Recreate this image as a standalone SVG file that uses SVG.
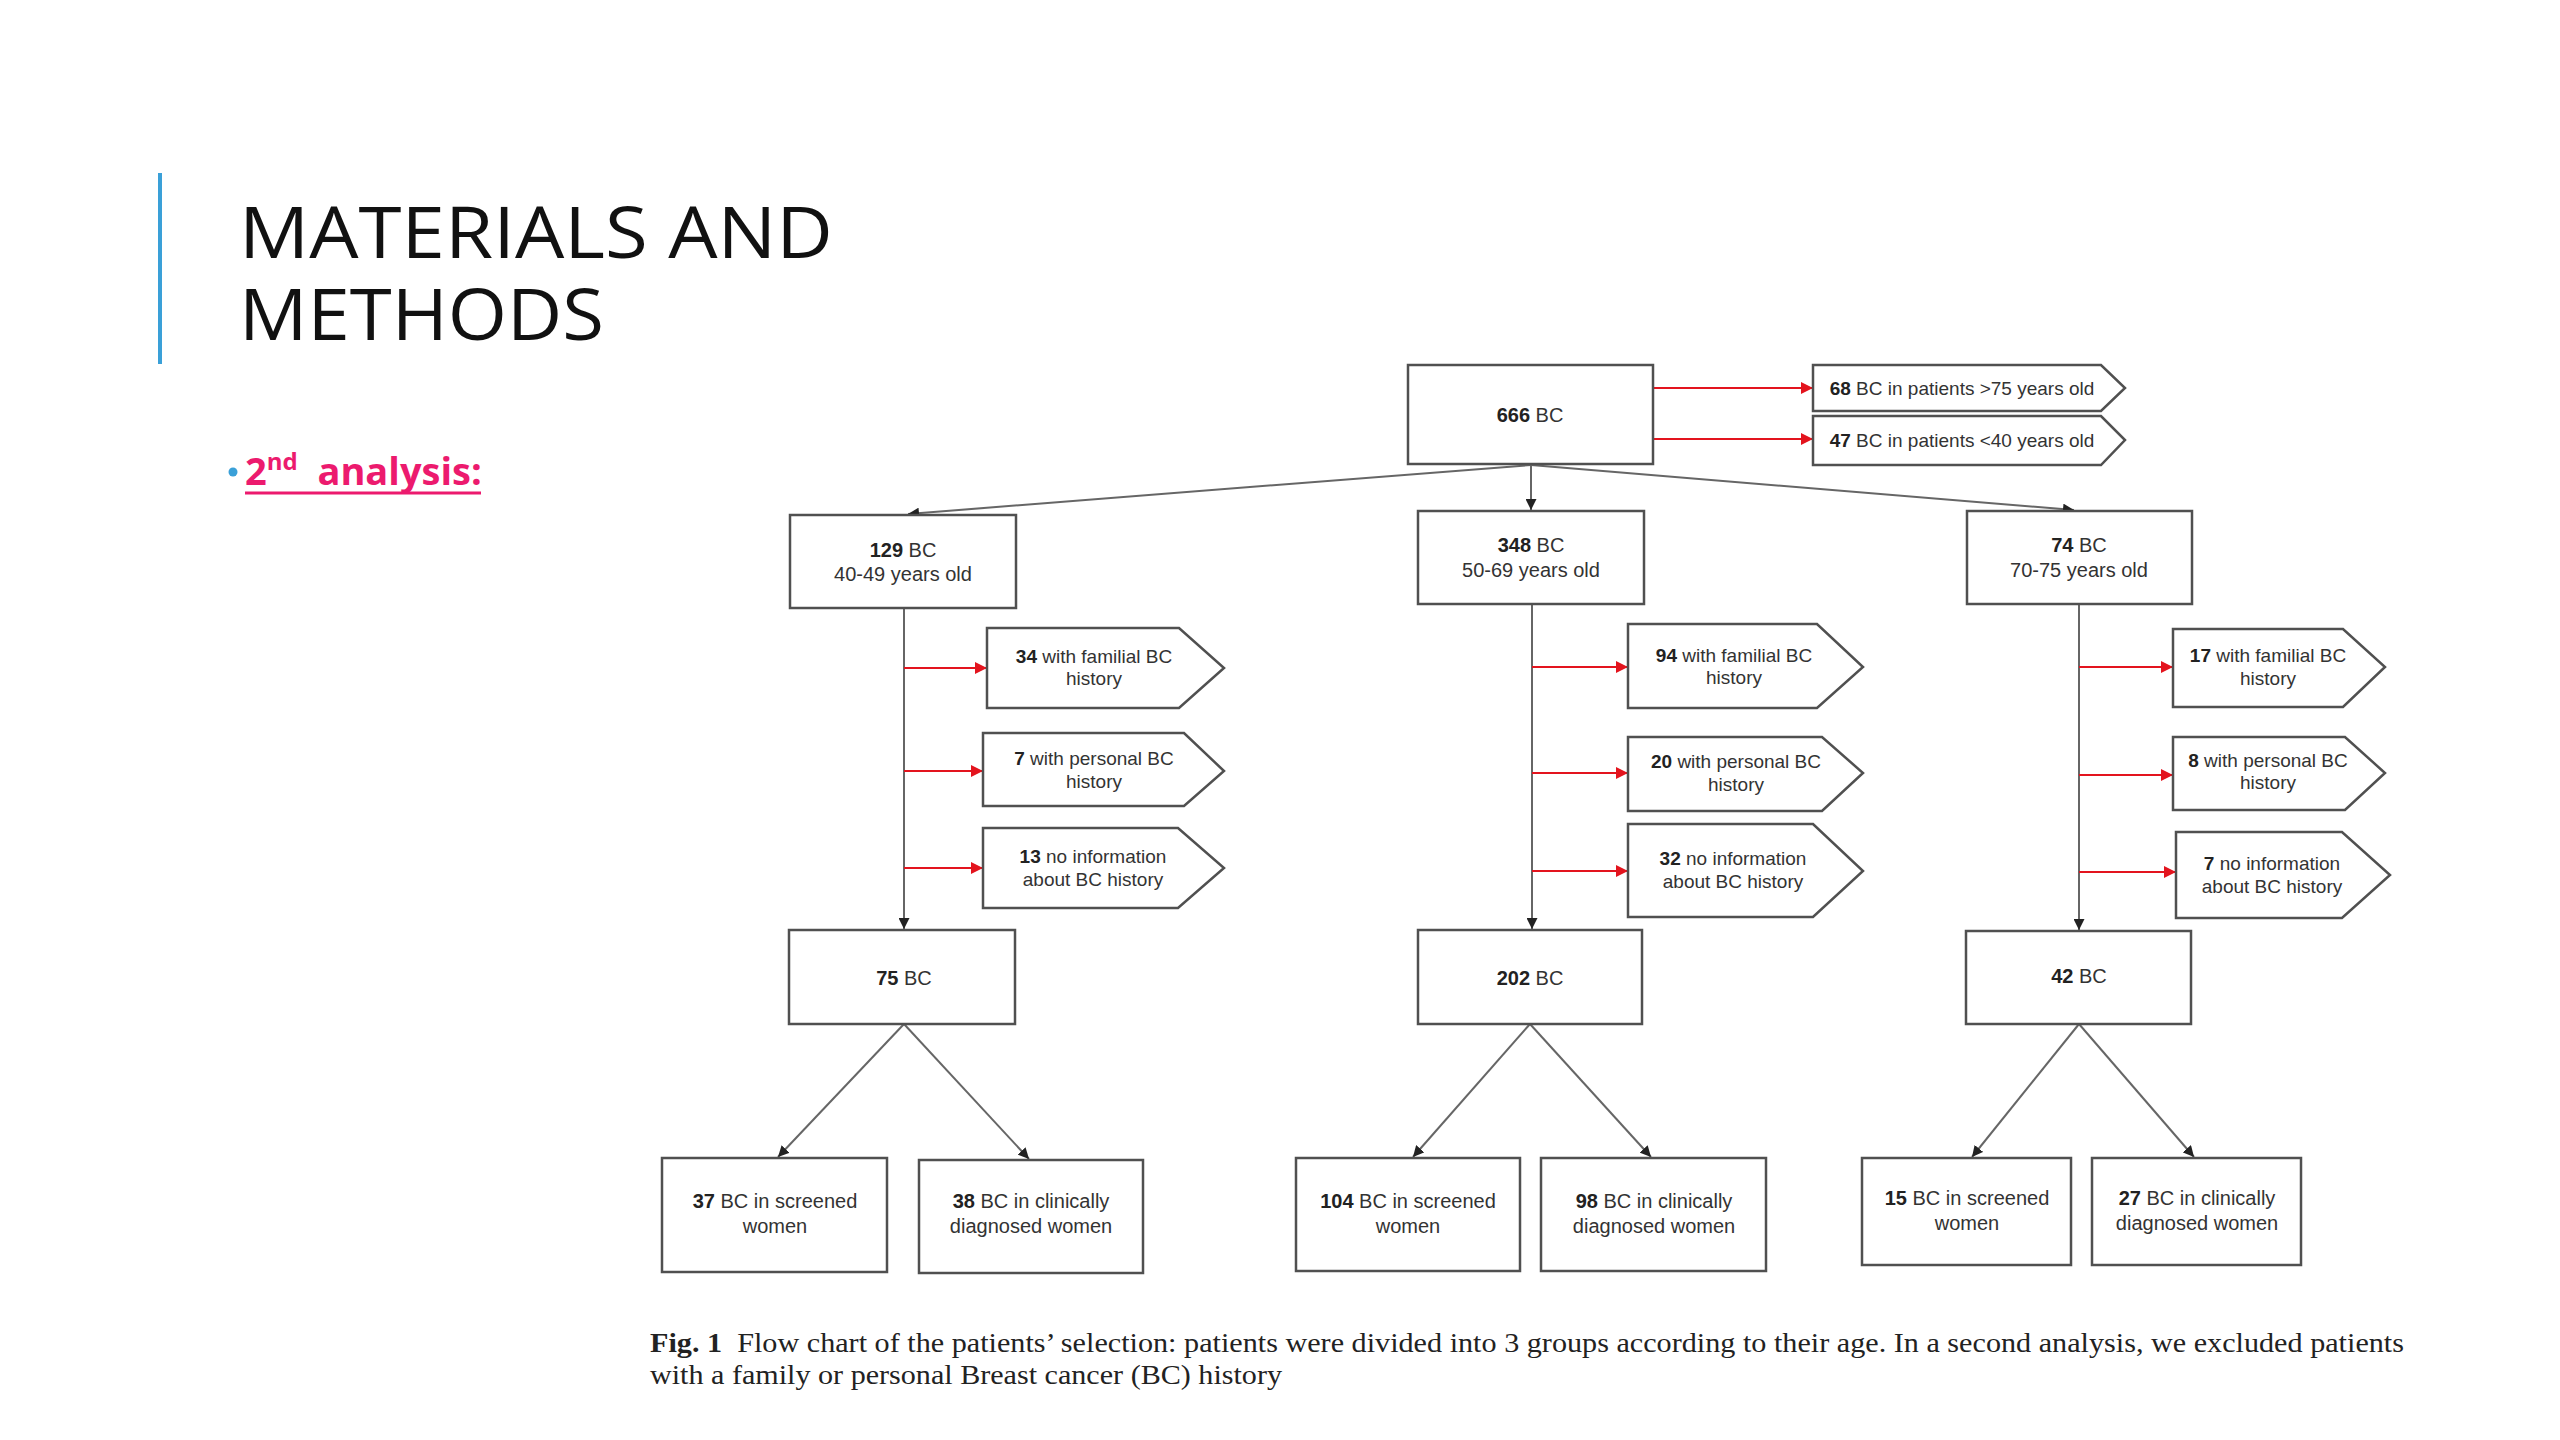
<svg xmlns="http://www.w3.org/2000/svg" width="2560" height="1440" viewBox="0 0 2560 1440">
<defs>
<marker id="ab" viewBox="0 0 10 10" refX="10" refY="5" markerWidth="11" markerHeight="11" markerUnits="userSpaceOnUse" orient="auto"><path d="M0,0 L10,5 L0,10 z" fill="#222"/></marker>
<marker id="ar" viewBox="0 0 10 10" refX="10" refY="5" markerWidth="12" markerHeight="12" markerUnits="userSpaceOnUse" orient="auto"><path d="M0,0 L10,5 L0,10 z" fill="#E3141E"/></marker>
</defs>
<style>
.box{fill:#fff;stroke:#505050;stroke-width:2.5}
.t{font-family:"Liberation Sans",Arial,sans-serif;font-size:20px;fill:#333;text-anchor:middle}
.ts{font-family:"Liberation Sans",Arial,sans-serif;font-size:19px;fill:#333;text-anchor:middle}
.b{font-weight:bold;fill:#222}
.ln{stroke:#666;stroke-width:2;fill:none;marker-end:url(#ab)}
.rl{stroke:#E3141E;stroke-width:2;fill:none;marker-end:url(#ar)}
.title{font-family:"Open Sans","Liberation Sans",sans-serif;font-size:72px;fill:#111}
.cap{font-family:"Liberation Serif","Times New Roman",serif;font-size:28px;fill:#222}
</style>
<rect width="2560" height="1440" fill="#fff"/>
<g id="title">
<line x1="160" y1="173" x2="160" y2="364" stroke="#3AA0D8" stroke-width="4"/>
<text class="title" x="239" y="258" textLength="594" lengthAdjust="spacingAndGlyphs">MATERIALS AND</text>
<text class="title" x="239" y="340" textLength="365" lengthAdjust="spacingAndGlyphs">METHODS</text>
</g>
<g id="bullet">
<circle cx="233" cy="472" r="4.5" fill="#3AA0D8"/>
<text x="245" y="485" font-family="'Open Sans','Liberation Sans',sans-serif" font-weight="bold" font-size="38" fill="#EC1A6E">2<tspan font-size="24" dy="-15">nd</tspan><tspan dy="15">&#160; analysis:</tspan></text>
<line x1="245" y1="493" x2="481" y2="493" stroke="#EC1A6E" stroke-width="3"/>
</g>
<g id="connectors">
<line class="rl" x1="1653" y1="388" x2="1813" y2="388"/>
<line class="rl" x1="1653" y1="439" x2="1813" y2="439"/>
<line class="ln" x1="1531" y1="465" x2="908" y2="514"/>
<line class="ln" x1="1531" y1="465" x2="1531" y2="510"/>
<line class="ln" x1="1531" y1="465" x2="2074" y2="510"/>
<line class="ln" x1="904" y1="608" x2="904" y2="929"/>
<line class="ln" x1="1532" y1="604" x2="1532" y2="929"/>
<line class="ln" x1="2079" y1="604" x2="2079" y2="930"/>
<line class="rl" x1="904" y1="668" x2="987" y2="668"/>
<line class="rl" x1="904" y1="771" x2="983" y2="771"/>
<line class="rl" x1="904" y1="868" x2="983" y2="868"/>
<line class="rl" x1="1532" y1="667" x2="1628" y2="667"/>
<line class="rl" x1="1532" y1="773" x2="1628" y2="773"/>
<line class="rl" x1="1532" y1="871" x2="1628" y2="871"/>
<line class="rl" x1="2079" y1="667" x2="2173" y2="667"/>
<line class="rl" x1="2079" y1="775" x2="2173" y2="775"/>
<line class="rl" x1="2079" y1="872" x2="2176" y2="872"/>
<line class="ln" x1="904" y1="1024" x2="778" y2="1157"/>
<line class="ln" x1="904" y1="1024" x2="1029" y2="1159"/>
<line class="ln" x1="1530" y1="1024" x2="1413" y2="1157"/>
<line class="ln" x1="1530" y1="1024" x2="1651" y2="1157"/>
<line class="ln" x1="2079" y1="1024" x2="1972" y2="1157"/>
<line class="ln" x1="2079" y1="1024" x2="2194" y2="1157"/>
</g>
<g id="n666"><rect class="box" x="1408" y="365" width="245" height="99"/><text class="t" x="1530" y="422"><tspan class="b">666</tspan> BC</text></g>
<g id="e68"><path class="box" d="M1813,365 H2101 L2125,388 L2101,411 H1813 Z"/><text class="ts" x="1962" y="395"><tspan class="b">68</tspan> BC in patients &gt;75 years old</text></g>
<g id="e47"><path class="box" d="M1813,416 H2101 L2125,440 L2101,465 H1813 Z"/><text class="ts" x="1962" y="447"><tspan class="b">47</tspan> BC in patients &lt;40 years old</text></g>
<g id="n129"><rect class="box" x="790" y="515" width="226" height="93"/><text class="t" x="903" y="557"><tspan class="b">129</tspan> BC</text><text class="t" x="903" y="581">40-49 years old</text></g>
<g id="n348"><rect class="box" x="1418" y="511" width="226" height="93"/><text class="t" x="1531" y="552"><tspan class="b">348</tspan> BC</text><text class="t" x="1531" y="577">50-69 years old</text></g>
<g id="n74"><rect class="box" x="1967" y="511" width="225" height="93"/><text class="t" x="2079" y="552"><tspan class="b">74</tspan> BC</text><text class="t" x="2079" y="577">70-75 years old</text></g>
<g id="p34"><path class="box" d="M987,628 H1179 L1224,668 L1179,708 H987 Z"/><text class="ts" x="1094" y="663"><tspan class="b">34</tspan> with familial BC</text><text class="ts" x="1094" y="685">history</text></g>
<g id="p7"><path class="box" d="M983,733 H1184 L1224,771 L1184,806 H983 Z"/><text class="ts" x="1094" y="765"><tspan class="b">7</tspan> with personal BC</text><text class="ts" x="1094" y="788">history</text></g>
<g id="p13"><path class="box" d="M983,828 H1178 L1224,868 L1178,908 H983 Z"/><text class="ts" x="1093" y="863"><tspan class="b">13</tspan> no information</text><text class="ts" x="1093" y="886">about BC history</text></g>
<g id="p94"><path class="box" d="M1628,624 H1817 L1863,667 L1817,708 H1628 Z"/><text class="ts" x="1734" y="662"><tspan class="b">94</tspan> with familial BC</text><text class="ts" x="1734" y="684">history</text></g>
<g id="p20"><path class="box" d="M1628,737 H1822 L1863,773 L1822,811 H1628 Z"/><text class="ts" x="1736" y="768"><tspan class="b">20</tspan> with personal BC</text><text class="ts" x="1736" y="791">history</text></g>
<g id="p32"><path class="box" d="M1628,824 H1813 L1863,871 L1813,917 H1628 Z"/><text class="ts" x="1733" y="865"><tspan class="b">32</tspan> no information</text><text class="ts" x="1733" y="888">about BC history</text></g>
<g id="p17"><path class="box" d="M2173,629 H2343 L2385,667 L2343,707 H2173 Z"/><text class="ts" x="2268" y="662"><tspan class="b">17</tspan> with familial BC</text><text class="ts" x="2268" y="685">history</text></g>
<g id="p8"><path class="box" d="M2173,737 H2345 L2385,773 L2345,810 H2173 Z"/><text class="ts" x="2268" y="767"><tspan class="b">8</tspan> with personal BC</text><text class="ts" x="2268" y="789">history</text></g>
<g id="p7n"><path class="box" d="M2176,832 H2342 L2390,875 L2342,918 H2176 Z"/><text class="ts" x="2272" y="870"><tspan class="b">7</tspan> no information</text><text class="ts" x="2272" y="893">about BC history</text></g>
<g id="n75"><rect class="box" x="789" y="930" width="226" height="94"/><text class="t" x="904" y="985"><tspan class="b">75</tspan> BC</text></g>
<g id="n202"><rect class="box" x="1418" y="930" width="224" height="94"/><text class="t" x="1530" y="985"><tspan class="b">202</tspan> BC</text></g>
<g id="n42"><rect class="box" x="1966" y="931" width="225" height="93"/><text class="t" x="2079" y="983"><tspan class="b">42</tspan> BC</text></g>
<g id="n37"><rect class="box" x="662" y="1158" width="225" height="114"/><text class="t" x="775" y="1208"><tspan class="b">37</tspan> BC in screened</text><text class="t" x="775" y="1233">women</text></g>
<g id="n38"><rect class="box" x="919" y="1160" width="224" height="113"/><text class="t" x="1031" y="1208"><tspan class="b">38</tspan> BC in clinically</text><text class="t" x="1031" y="1233">diagnosed women</text></g>
<g id="n104"><rect class="box" x="1296" y="1158" width="224" height="113"/><text class="t" x="1408" y="1208"><tspan class="b">104</tspan> BC in screened</text><text class="t" x="1408" y="1233">women</text></g>
<g id="n98"><rect class="box" x="1541" y="1158" width="225" height="113"/><text class="t" x="1654" y="1208"><tspan class="b">98</tspan> BC in clinically</text><text class="t" x="1654" y="1233">diagnosed women</text></g>
<g id="n15"><rect class="box" x="1862" y="1158" width="209" height="107"/><text class="t" x="1967" y="1205"><tspan class="b">15</tspan> BC in screened</text><text class="t" x="1967" y="1230">women</text></g>
<g id="n27"><rect class="box" x="2092" y="1158" width="209" height="107"/><text class="t" x="2197" y="1205"><tspan class="b">27</tspan> BC in clinically</text><text class="t" x="2197" y="1230">diagnosed women</text></g>
<g id="caption">
<text class="cap" x="650" y="1352" textLength="1754" lengthAdjust="spacingAndGlyphs"><tspan font-weight="bold">Fig. 1</tspan>&#160; Flow chart of the patients’ selection: patients were divided into 3 groups according to their age. In a second analysis, we excluded patients</text>
<text class="cap" x="650" y="1384" textLength="632" lengthAdjust="spacingAndGlyphs">with a family or personal Breast cancer (BC) history</text>
</g>
</svg>
